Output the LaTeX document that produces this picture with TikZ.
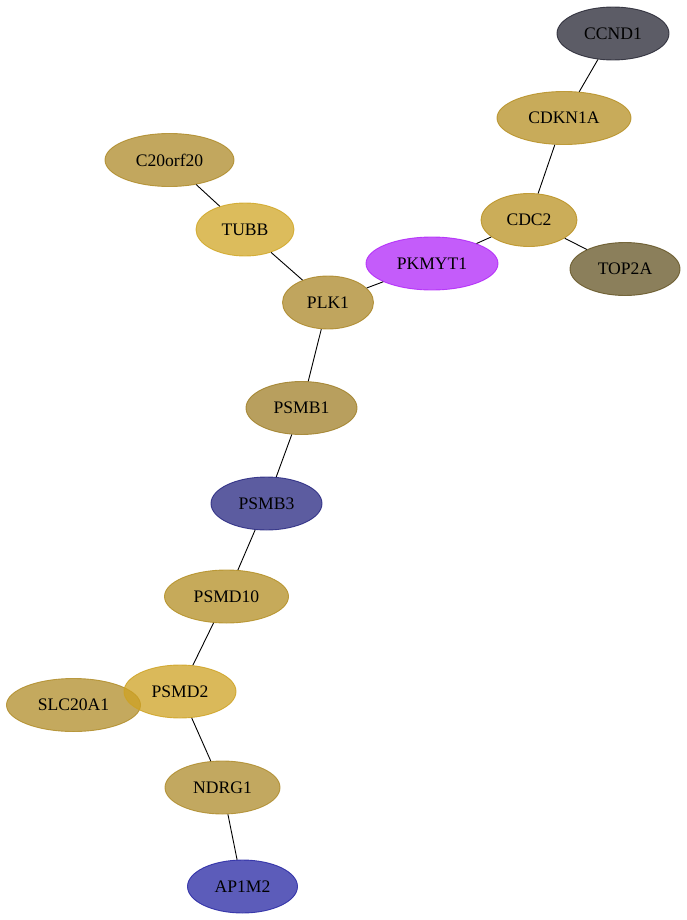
\documentclass[tikz,border=0pt]{standalone}
\usepackage{fontspec}
\setmainfont{Liberation Serif}
\usetikzlibrary{shapes.geometric}
\definecolor{cCCND}{RGB}{38,38,51}
\definecolor{cCDKN}{RGB}{182,143,35}
\definecolor{cCDC}{RGB}{186,145,33}
\definecolor{cTOP}{RGB}{100,84,36}
\definecolor{cPKM}{RGB}{176,38,248}
\definecolor{cC20}{RGB}{174,138,40}
\definecolor{cTUBB}{RGB}{208,166,38}
\definecolor{cPLK}{RGB}{171,135,40}
\definecolor{cPSMBa}{RGB}{160,127,40}
\definecolor{cPSMBc}{RGB}{38,38,128}
\definecolor{cPSMDa}{RGB}{179,142,35}
\definecolor{cPSMDb}{RGB}{206,162,35}
\definecolor{cSLC}{RGB}{176,140,40}
\definecolor{cNDRG}{RGB}{174,139,43}
\definecolor{cAP}{RGB}{38,38,163}
\tikzset{
  gnode/.style 2 args={ellipse, inner sep=0pt, minimum width=#1pt, minimum height=53pt,
    font=\fontsize{17.6}{20}\selectfont, fill=#2, fill opacity=0.75, text opacity=1,
    draw=#2, draw opacity=0.85, line width=0.9pt},
  edge/.style={draw=black, line width=0.9pt}
}
\begin{document}
\begin{tikzpicture}[x=1pt,y=1pt]
\useasboundingbox (0,0) rectangle (687,-920);
\coordinate (eCCND1) at (613,-33.5);
\coordinate (eCDKN1A) at (564,-118);
\coordinate (eCDC2) at (529,-220);
\coordinate (eTOP2A) at (625,-269);
\coordinate (ePKMYT1) at (432,-263.5);
\coordinate (eC20orf20) at (169.5,-160);
\coordinate (eTUBB) at (245,-229.5);
\coordinate (ePLK1) at (328,-302.5);
\coordinate (ePSMB1) at (301.5,-408);
\coordinate (ePSMB3) at (266.5,-503.5);
\coordinate (ePSMD10) at (226.5,-596.5);
\coordinate (ePSMD2) at (180,-691.5);
\coordinate (eSLC20A1) at (73.5,-705);
\coordinate (eNDRG1) at (222.5,-787.5);
\coordinate (eAP1M2) at (242.5,-886.5);
\node[gnode={112}{cCCND}] (CCND1) at (eCCND1) {CCND1};
\node[gnode={134}{cCDKN}] (CDKN1A) at (eCDKN1A) {CDKN1A};
\node[gnode={96}{cCDC}] (CDC2) at (eCDC2) {CDC2};
\node[gnode={110}{cTOP}] (TOP2A) at (eTOP2A) {TOP2A};
\node[gnode={132}{cPKM}] (PKMYT1) at (ePKMYT1) {PKMYT1};
\node[gnode={129}{cC20}] (C20orf20) at (eC20orf20) {C20orf20};
\node[gnode={98}{cTUBB}] (TUBB) at (eTUBB) {TUBB};
\node[gnode={91}{cPLK}] (PLK1) at (ePLK1) {PLK1};
\node[gnode={111}{cPSMBa}] (PSMB1) at (ePSMB1) {PSMB1};
\node[gnode={111}{cPSMBc}] (PSMB3) at (ePSMB3) {PSMB3};
\node[gnode={124}{cPSMDa}] (PSMD10) at (ePSMD10) {PSMD10};
\node[gnode={134}{cSLC}] (SLC20A1) at (eSLC20A1) {SLC20A1};
\node[gnode={112}{cPSMDb}] (PSMD2) at (ePSMD2) {PSMD2};
\node[gnode={115}{cNDRG}] (NDRG1) at (eNDRG1) {NDRG1};
\node[gnode={110}{cAP}] (AP1M2) at (eAP1M2) {AP1M2};
\draw[edge] (CCND1) -- (CDKN1A);
\draw[edge] (CDKN1A) -- (CDC2);
\draw[edge] (CDC2) -- (TOP2A);
\draw[edge] (CDC2) -- (PKMYT1);
\draw[edge] (PKMYT1) -- (PLK1);
\draw[edge] (C20orf20) -- (TUBB);
\draw[edge] (TUBB) -- (PLK1);
\draw[edge] (PLK1) -- (PSMB1);
\draw[edge] (PSMB1) -- (PSMB3);
\draw[edge] (PSMB3) -- (PSMD10);
\draw[edge] (PSMD10) -- (PSMD2);
\draw[edge] (PSMD2) -- (NDRG1);
\draw[edge] (NDRG1) -- (AP1M2);
\end{tikzpicture}
\end{document}
